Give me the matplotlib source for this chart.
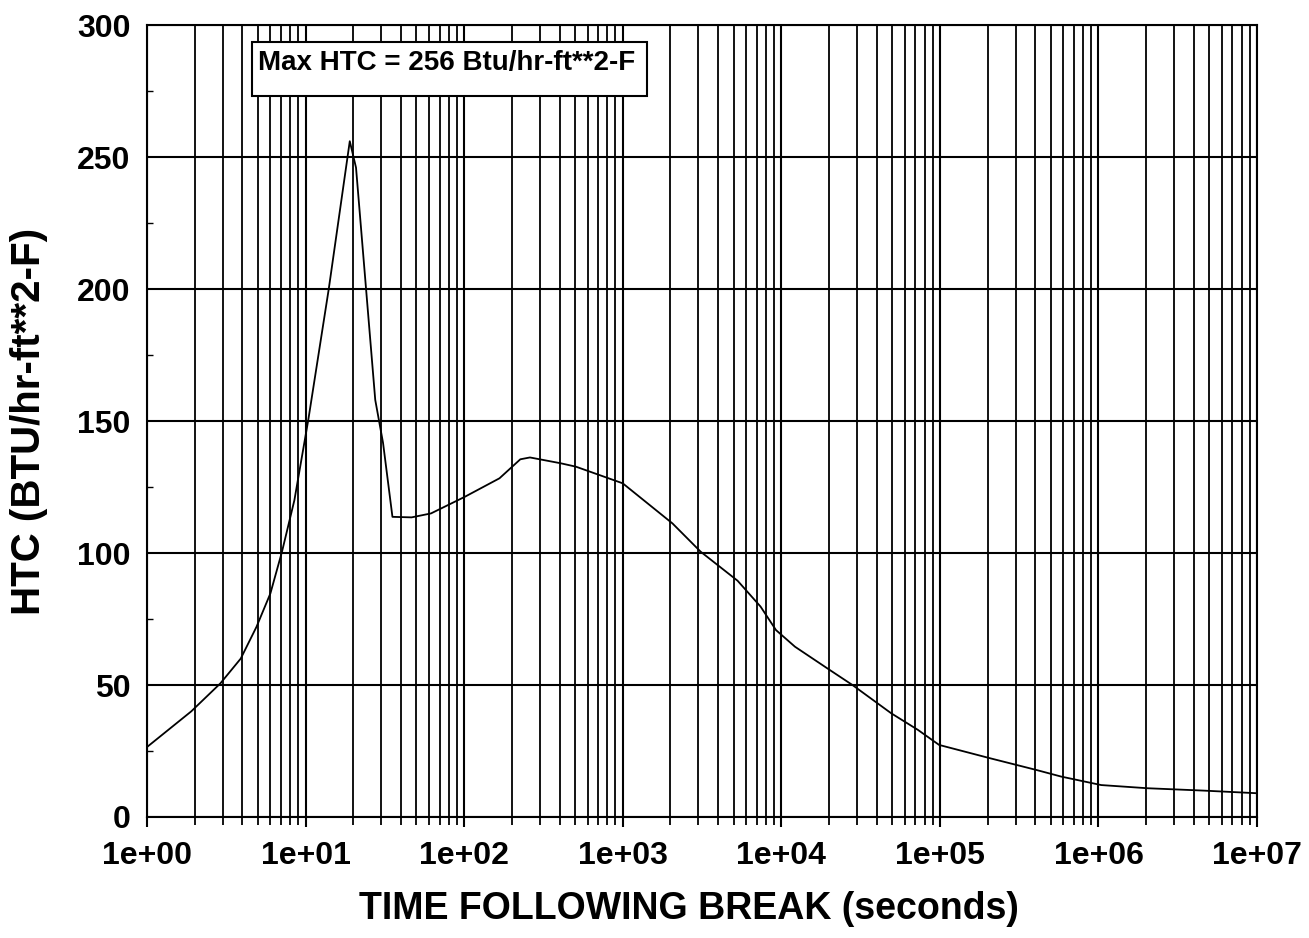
import matplotlib
matplotlib.use("Agg")
import matplotlib.pyplot as plt
from matplotlib.patches import Rectangle
from matplotlib.ticker import LogLocator, FixedLocator, MultipleLocator, NullFormatter

plt.rcParams['font.family'] = ['Liberation Sans', 'DejaVu Sans']

time_s = [1, 1.9, 2.9, 3.9, 4.9, 6.0, 7.1, 8.5, 10.4, 14.0, 19.0, 20.8, 27.5, 30.8, 35.3,
          46.6, 61.8, 101, 167, 226, 260, 406, 507, 1000, 2060, 3100, 5300, 7400, 9260,
          12200, 20200, 28100, 49300, 72700, 98900, 209000, 407000, 583000, 1.04e6,
          2.03e6, 4.6e6, 1e7]
htc = [26.5, 40, 50.6, 60, 72, 84.7, 100.5, 120, 150.4, 200, 256, 246, 158, 141.7, 113.7,
       113.5, 115, 121.3, 128.3, 135.5, 136.2, 134, 132.7, 126.4, 111.2, 100.5, 89.5, 79.7, 70.8,
       64.5, 55.7, 50, 39.3, 33, 27.3, 22.2, 17.8, 15.3, 12.1,
       10.9, 10, 9]

x_ticks = [1, 1e1, 1e2, 1e3, 1e4, 1e5, 1e6, 1e7]
x_ticklabels = ["1e+00", "1e+01", "1e+02", "1e+03", "1e+04", "1e+05", "1e+06", "1e+07"]
y_ticks = [0, 50, 100, 150, 200, 250, 300]
annotation = "Max HTC = 256 Btu/hr-ft**2-F"

fig = plt.figure(figsize=(13.09, 9.38), dpi=100)
ax = fig.add_axes([0.1123, 0.129, 0.848, 0.8443])

ax.plot(time_s, htc, color='black', linewidth=1.3, zorder=3)
ax.set_xscale('log')
ax.set_xlim(1, 1e7)
ax.set_ylim(0, 300)

ax.xaxis.set_major_locator(FixedLocator(x_ticks))
ax.set_xticks(x_ticks)
ax.set_xticklabels(x_ticklabels)
ax.xaxis.set_minor_locator(LogLocator(base=10, subs=range(2, 10), numticks=20))
ax.xaxis.set_minor_formatter(NullFormatter())
ax.set_yticks(y_ticks)
ax.yaxis.set_minor_locator(MultipleLocator(25))

ax.grid(True, which='major', axis='both', color='black', linewidth=1.5)
ax.grid(True, which='minor', axis='x', color='black', linewidth=1.3)

ax.tick_params(axis='x', which='major', direction='out', length=7, width=1.5, pad=10)
ax.tick_params(axis='x', which='minor', direction='out', length=6, width=1.3)
ax.tick_params(axis='y', which='major', direction='in', length=6, width=1.2, pad=12)
ax.tick_params(axis='y', which='minor', direction='in', length=4, width=1.0)
for lab in ax.get_xticklabels() + ax.get_yticklabels():
    lab.set_fontsize(23)
    lab.set_fontweight('bold')

for sp in ax.spines.values():
    sp.set_linewidth(1.5)

ax.set_xlabel("TIME FOLLOWING BREAK (seconds)", fontsize=27, fontweight='bold')
ax.xaxis.label.set_va('center')
ax.xaxis.set_label_coords(0.488, -0.116)
ax.set_ylabel("HTC (BTU/hr-ft**2-F)", fontsize=29, fontweight='bold')
ax.yaxis.label.set_va('center')
ax.yaxis.set_label_coords(-0.106, 0.5)

# annotation box (axes coords)
ax.add_patch(Rectangle((0.0946, 0.910), 0.3554, 0.0685, transform=ax.transAxes,
                       facecolor='white', edgecolor='black', linewidth=1.5, zorder=5))
ax.text(0.1, 0.952, annotation, transform=ax.transAxes, fontsize=20, fontweight='bold',
        ha='left', va='center', zorder=6)

fig.savefig("out.png", dpi=100, facecolor='white')
